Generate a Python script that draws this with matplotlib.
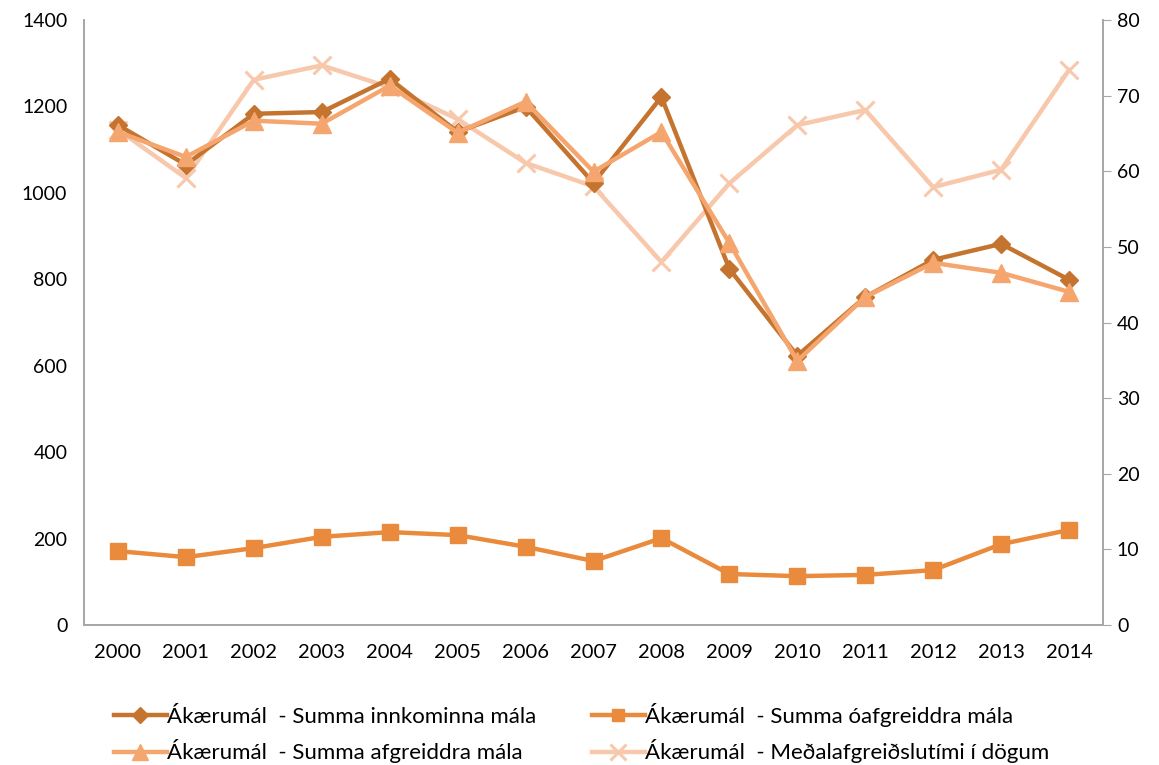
import matplotlib
matplotlib.use("Agg")
import matplotlib.pyplot as plt
import numpy as np

years = ["2000", "2001", "2002", "2003", "2004", "2005", "2006", "2007",
         "2008", "2009", "2010", "2011", "2012", "2013", "2014"]
innkominna = [1157, 1065, 1183, 1187, 1264, 1141, 1199, 1023, 1222, 824, 623, 759, 845, 882, 799]
oafgreiddra = [171, 157, 178, 204, 215, 208, 181, 148, 201, 118, 113, 116, 127, 187, 220]
afgreiddra = [1141, 1083, 1167, 1160, 1248, 1139, 1211, 1049, 1141, 884, 611, 759, 838, 815, 771]
medaltimi = [65.5, 59.1, 72.1, 74.0, 71.1, 66.9, 61.1, 58.0, 48.0, 58.4, 66.1, 68.1, 57.9, 60.2, 73.4]

labels = ["Ákærumál  - Summa innkominna mála",
          "Ákærumál  - Summa óafgreiddra mála",
          "Ákærumál  - Summa afgreiddra mála",
          "Ákærumál  - Meðalafgreiðslutími í dögum"]

plt.rcParams['font.family'] = ['Lato', 'DejaVu Sans']

fig = plt.figure(figsize=(11.59, 7.65), dpi=100)
ax = fig.add_axes([84/1159, 140/765, (1103-84)/1159, 605/765])
ax2 = ax.twinx()

x = np.arange(len(years))
c1, c2, c3, c4 = "#C5742F", "#EA8A3C", "#F5A66E", "#F8C8AC"

l4, = ax2.plot(x, medaltimi, color=c4, lw=3.2, marker="x", ms=13, mew=2.2, label=labels[3], zorder=1)
l2, = ax.plot(x, oafgreiddra, color=c2, lw=3.2, marker="s", ms=11, label=labels[1], zorder=3)
l1, = ax.plot(x, innkominna, color=c1, lw=3.2, marker="D", ms=9, label=labels[0], zorder=4)
l3, = ax.plot(x, afgreiddra, color=c3, lw=3.2, marker="^", ms=13, label=labels[2], zorder=5)

ax.set_zorder(ax2.get_zorder() + 1)
ax.patch.set_visible(False)

ax.set_xlim(-0.5, len(years) - 0.5)
ax.set_ylim(0, 1400)
ax.set_yticks(range(0, 1401, 200))
ax2.set_ylim(0, 80)
ax2.set_yticks(range(0, 81, 10))
ax.set_xticks(x)
ax.set_xticklabels(years)

for a in (ax, ax2):
    a.spines["top"].set_visible(False)
    for s in ("left", "right", "bottom"):
        a.spines[s].set_color("#A6A6A6")
        a.spines[s].set_linewidth(1.2)

ax.tick_params(axis="y", length=0, labelsize=14, pad=12, colors="#000000")
ax.tick_params(axis="x", length=0, labelsize=14.5, pad=14)
ax2.tick_params(axis="y", length=6, color="#A6A6A6", labelsize=14, pad=4)

fig.legend(handles=[l1, l3, l2, l4], labels=[labels[0], labels[2], labels[1], labels[3]],
           loc="lower left",
           bbox_to_anchor=(98/1159, -14/765), ncol=2, frameon=False, fontsize=16,
           handlelength=2.4, handletextpad=0.0, columnspacing=2.5, labelspacing=0.55,
           borderaxespad=0.3, markerscale=0.85)

fig.savefig("out.png", dpi=100)
